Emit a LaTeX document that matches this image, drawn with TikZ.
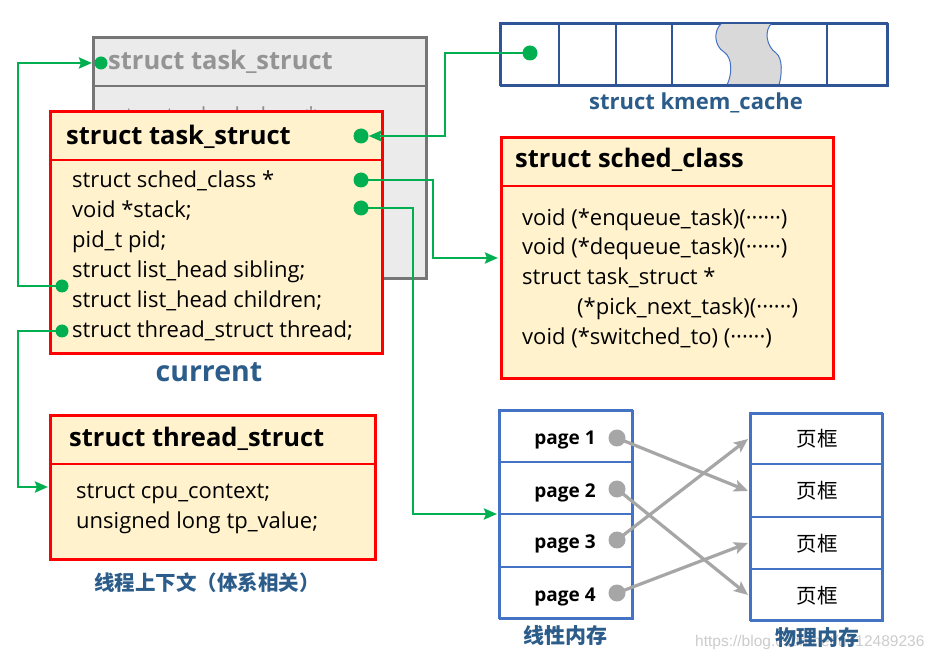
\documentclass[tikz,border=0pt]{standalone}
\usepackage{fontspec}
\setmainfont{Open Sans}
\newfontfamily\cjk{Noto Sans CJK SC}
\newfontfamily\wmfont{Liberation Sans}
\usetikzlibrary{arrows.meta}
\definecolor{redb}{HTML}{FF0000}
\definecolor{yel}{HTML}{FFF2CC}
\definecolor{grn}{HTML}{00B050}
\definecolor{bluet}{HTML}{2B5C8A}
\definecolor{blueb}{HTML}{2F5597}
\definecolor{bluel}{HTML}{4472C4}
\definecolor{grayb}{HTML}{767676}
\definecolor{grayf}{HTML}{EBEBEB}
\definecolor{arr}{HTML}{A6A6A6}
\definecolor{wave}{HTML}{D9D9D9}
\newcommand{\dotsmid}{······}
\tikzset{
  redbox/.style={draw=redb, line width=2.8pt, fill=yel, anchor=north west, inner sep=0pt},
  graybox/.style={draw=grayb, line width=2.8pt, fill=grayf, anchor=north west, inner sep=0pt},
  bluebox/.style={draw=blueb, line width=2pt, fill=white, anchor=north west, inner sep=0pt},
  txt/.style={anchor=base west, inner sep=0pt, font=\fontsize{22}{22}\selectfont},
  hdr/.style={anchor=base west, inner sep=0pt, font=\fontsize{25.5}{25.5}\selectfont\bfseries},
  lbl/.style={anchor=base, inner sep=0pt, text=bluet},
  pg/.style={anchor=base, inner sep=0pt, font=\fontsize{19}{19}\selectfont\bfseries},
  fr/.style={anchor=base, inner sep=0pt, font=\cjk\fontsize{20.5}{20.5}\selectfont},
  gdot/.style={circle, fill=grn, minimum size=15pt, inner sep=0pt},
  pdot/.style={circle, fill=arr, minimum size=17pt, inner sep=0pt},
  gline/.style={draw=grn, line width=2.8pt},
  garrow/.style={gline, -{Stealth[length=13pt,width=11pt,inset=2pt]}},
  parrow/.style={draw=arr, line width=3.2pt, -{Stealth[length=14pt,width=12pt,inset=3pt]}},
}
\begin{document}
\begin{tikzpicture}[x=1pt,y=-1pt]
\useasboundingbox (0,0) rectangle (938,660);
\fill[white] (0,0) rectangle (938,660);

% watermark
\node[anchor=base west, inner sep=0pt, text=black!20, font=\wmfont\fontsize{15.5}{15.5}\selectfont] (wm) at (695,646) {https://blog.csdn.net/u012489236};

% gray back task_struct
\node[graybox, minimum width=333pt, minimum height=241pt] (gbox) at (92,36) {};
\draw[grayb, line width=2.8pt] (92,86) -- (425,86);
\node[hdr, text=black!42] (gtitle) at (108,70) {struct task\_struct};
\node[txt, text=black!45] (ghid) at (115,124) {struct sched\_class *};
\node[gdot, minimum size=13pt] (gd) at (101,63) {};

% front task_struct (current)
\node[redbox, minimum width=332pt, minimum height=242pt] (ts) at (49,110) {};
\draw[redb, line width=2.8pt] (49,160) -- (381,160);
\node[hdr] (tstitle) at (66,145) {struct task\_struct};
\node[txt] (l1) at (72,188) {struct sched\_class *};
\node[txt] (l2) at (72,218) {void *stack;};
\node[txt] (l3) at (72,248) {pid\_t pid;};
\node[txt] (l4) at (72,278) {struct list\_head sibling;};
\node[txt] (l5) at (72,308) {struct list\_head children;};
\node[txt] (l6) at (72,338) {struct thread\_struct thread;};
\node[gdot] (hd) at (361,136) {};
\node[gdot] (sd) at (361,180) {};
\node[gdot] (kd) at (361,208) {};
\node[gdot, minimum size=13pt] (sib) at (62,286) {};
\node[gdot, minimum size=13pt] (thr) at (62,331) {};
\node[lbl, font=\fontsize{28.5}{28.5}\selectfont\bfseries] (cur) at (209,382) {current};

% kmem_cache
\node[bluebox, minimum width=387pt, minimum height=62pt] (km) at (500,23) {};
\filldraw[fill=wave, draw=bluel, line width=1pt]
  (722,23) .. controls (713,30) and (714,46) .. (724,52)
  .. controls (733,58) and (732,75) .. (727,85)
  -- (779,85) .. controls (782,75) and (783,58) .. (776,53)
  .. controls (766,46) and (764,30) .. (772,23) -- cycle;
\draw[blueb, line width=2pt] (500,23) rectangle (887,85);
\foreach \xx in {559,616,672,827} \draw[blueb, line width=2pt] (\xx,23) -- (\xx,85);
\node[gdot] (cd) at (530,53) {};
\node[lbl, font=\fontsize{22}{22}\selectfont\bfseries] (kmt) at (696,110) {struct kmem\_cache};

% sched_class
\node[redbox, minimum width=332pt, minimum height=241pt] (sc) at (500,136) {};
\draw[redb, line width=2.8pt] (500,186) -- (832,186);
\node[hdr] (sctitle) at (515,168) {struct sched\_class};
\node[txt] (s1) at (522,226) {void (*enqueue\_task)(\dotsmid)};
\node[txt] (s2) at (522,255) {void (*dequeue\_task)(\dotsmid)};
\node[txt] (s3) at (522,285) {struct task\_struct *};
\node[txt] (s4) at (577,315) {(*pick\_next\_task)(\dotsmid)};
\node[txt] (s5) at (522,345) {void (*switched\_to) (\dotsmid)};

% thread_struct
\node[redbox, minimum width=325pt, minimum height=144pt] (th) at (49,414) {};
\draw[redb, line width=2.8pt] (49,464) -- (374,464);
\node[hdr] (thtitle) at (69,447) {struct thread\_struct};
\node[txt] (t1) at (76,499) {struct cpu\_context;};
\node[txt] (t2) at (76,528) {unsigned long tp\_value;};
\node[lbl, font=\cjk\fontsize{20.5}{20.5}\selectfont\bfseries] (thl) at (207,590) {线程上下文（体系相关）};

% linear memory
\node[bluebox, draw=bluel, minimum width=133pt, minimum height=208pt] (lin) at (499,410) {};
\foreach \yy in {462,514,567} \draw[bluel, line width=1.8pt] (499,\yy) -- (632,\yy);
\draw[bluel, line width=2.2pt] (499,410) rectangle (632,618);
\node[pg] (p1) at (565,445) {page 1};
\node[pg] (p2) at (565,497) {page 2};
\node[pg] (p3) at (565,548) {page 3};
\node[pg] (p4) at (565,601) {page 4};
\node[pdot] (d1) at (617,438) {};
\node[pdot] (d2) at (617,489) {};
\node[pdot] (d3) at (617,540) {};
\node[pdot] (d4) at (617,593) {};
\node[lbl, font=\cjk\fontsize{21}{21}\selectfont\bfseries] (linl) at (565,643) {线性内存};

% physical memory
\node[bluebox, draw=bluel, minimum width=132pt, minimum height=207pt] (phy) at (750,413) {};
\foreach \yy in {464,517,569} \draw[bluel, line width=1.8pt] (750,\yy) -- (882,\yy);
\draw[bluel, line width=2.2pt] (750,413) rectangle (882,620);
\node[fr] (f1) at (817,447) {页框};
\node[fr] (f2) at (817,499) {页框};
\node[fr] (f3) at (817,551) {页框};
\node[fr] (f4) at (817,603) {页框};
\node[lbl, font=\cjk\fontsize{21}{21}\selectfont\bfseries] (phyl) at (817,645) {物理内存};

% mapping arrows
\coordinate (e1) at (748,491);
\coordinate (e2) at (748,595);
\coordinate (e3) at (748,439);
\coordinate (e4) at (748,543);
\draw[parrow] (d1.center) -- (e1);
\draw[parrow] (d2.center) -- (e2);
\draw[parrow] (d3.center) -- (e3);
\draw[parrow] (d4.center) -- (e4);

% green connectors
\coordinate (a1) at (445,53);
\coordinate (a2) at (445,136);
\draw[garrow] (cd.center) -- (a1) -- (a2) -- (hd);
\coordinate (b1) at (433,180);
\coordinate (b2) at (433,258);
\coordinate (b3) at (498,258);
\draw[garrow] (sd.center) -- (b1) -- (b2) -- (b3);
\coordinate (c1) at (413,208);
\coordinate (c2) at (413,514);
\coordinate (c3) at (497,514);
\draw[garrow] (kd.center) -- (c1) -- (c2) -- (c3);
\coordinate (g1) at (18,286);
\coordinate (g2) at (18,63);
\coordinate (g3) at (92,63);
\draw[garrow] (sib.center) -- (g1) -- (g2) -- (g3);
\coordinate (h1) at (18,331);
\coordinate (h2) at (18,487);
\coordinate (h3) at (48,487);
\draw[garrow] (thr.center) -- (h1) -- (h2) -- (h3);
\end{tikzpicture}
\end{document}
